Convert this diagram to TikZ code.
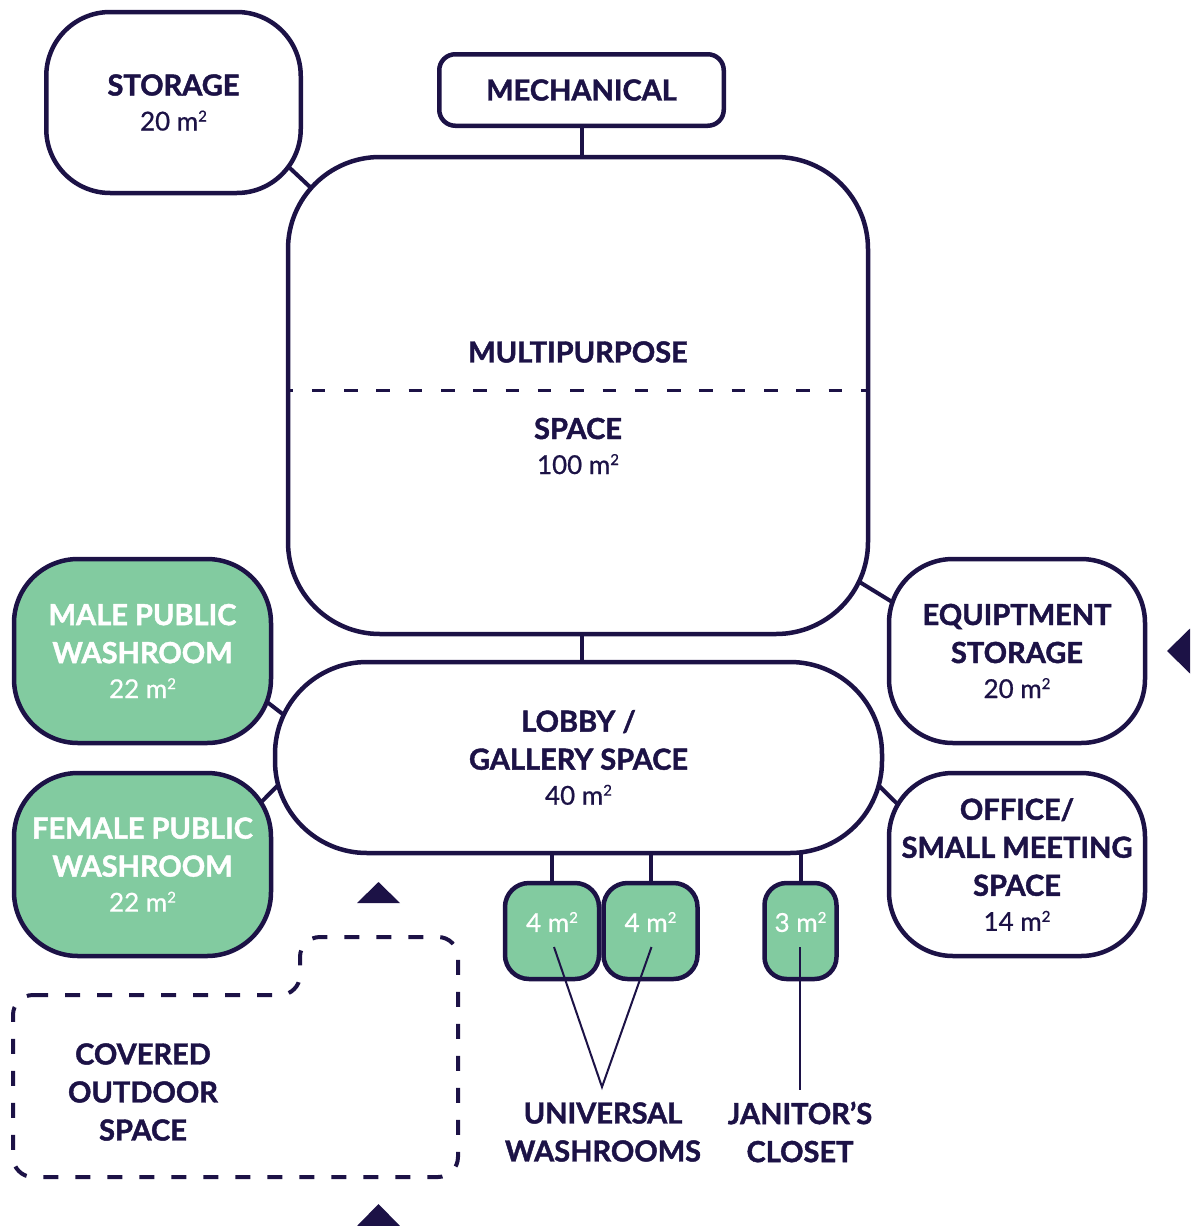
\documentclass[tikz,border=0pt]{standalone}
\usepackage{fontspec}
\setmainfont{Lato}[BoldFeatures={FakeBold=1.5}]
\newfontface\areafont{Lato}[FakeBold=0.7]
\usetikzlibrary{backgrounds,calc}
\definecolor{ink}{RGB}{28,18,70}
\definecolor{leaf}{RGB}{130,203,160}
\newcommand{\sqm}[1]{{\fontsize{26}{30}\areafont #1 m\raisebox{9pt}{\fontsize{15}{15}\selectfont 2}}}

\begin{document}
\begin{tikzpicture}[x=1pt,y=-1pt,
  room/.style={draw=ink, line width=4.5pt, fill=white, rounded corners=#1, inner sep=0pt, outer sep=0pt, align=center, text=ink, font=\fontsize{29}{38}\selectfont\bfseries},
  room/.default=64pt,
  wet/.style={room=#1, fill=leaf, text=white},
  wet/.default=64pt,
  caption/.style={inner sep=0pt, align=center, text=ink, font=\fontsize{29}{38}\selectfont\bfseries},
  link/.style={draw=ink, line width=4pt},
  lead/.style={draw=ink, line width=2pt},
  divide/.style={draw=ink, line width=3pt, dash pattern=on 13.5pt off 18.8pt, dash phase=8.5pt},
  outline/.style={draw=ink, line width=4pt, rounded corners=20pt, dash pattern=on 15pt off 17pt}]
\useasboundingbox (0,0) rectangle (1193,1226);

\node[room=16pt, minimum width=284.5pt, minimum height=71.5pt] (mech) at (581.5,90) {MECHANICAL};
\node[room, minimum width=254.5pt, minimum height=181pt] (storage) at (173.5,102.5) {STORAGE\\[-3pt]\sqm{20}};
\node[room=92pt, minimum width=580pt, minimum height=477pt] (multi) at (578,395.5) {};
\node[room=92pt, minimum width=607pt, minimum height=191pt] (lobby) at (578.5,757.5) {LOBBY /\\GALLERY SPACE\\[-3pt]\sqm{40}};
\node[room, minimum width=256pt, minimum height=184pt] (equip) at (1017,651) {EQUIPTMENT\\STORAGE\\[-3pt]\sqm{20}};
\node[room, minimum width=256pt, minimum height=183pt] (office) at (1017,864.5) {OFFICE/\\SMALL MEETING\\SPACE\\[-3pt]\sqm{14}};
\node[wet, minimum width=257pt, minimum height=184pt] (male) at (142.5,651) {MALE PUBLIC\\WASHROOM\\[-3pt]\sqm{22}};
\node[wet, minimum width=257pt, minimum height=183pt] (female) at (142.5,864.5) {FEMALE PUBLIC\\WASHROOM\\[-3pt]\sqm{22}};
\node[wet=24pt, minimum width=94pt, minimum height=96pt] (uw1) at (552,931) {};
\node[wet=24pt, minimum width=94pt, minimum height=96pt] (uw2) at (650.5,931) {};
\node[wet=22pt, minimum width=72pt, minimum height=96pt] (jan) at (800.5,931) {};

\draw[divide] ($(multi.west)+(0,-5.5)$) -- ($(multi.east)+(0,-5.5)$);
\node[caption] (mptop) at (578,352) {MULTIPURPOSE};
\node[caption] (mpbot) at (578,446) {SPACE\\[-3pt]\sqm{100}};

\node[caption, text=white] (uw1txt) at ($(uw1.center)+(0,-9)$) {\sqm{4}};
\node[caption, text=white] (uw2txt) at ($(uw2.center)+(0,-9)$) {\sqm{4}};
\node[caption, text=white] (jantxt) at ($(jan.center)+(0,-9)$) {\sqm{3}};

\begin{scope}[on background layer]
\draw[link] (mech.south) -- (mech.south |- multi.north);
\draw[link] (mech.south |- multi.south) -- (mech.south |- lobby.north);
\draw[link] ($(storage.south east)+(-29,-42)$) -- ($(multi.north west)+(47,53.5)$);
\draw[link] ($(multi.south east)+(-36.3,-69.1)$) -- ($(equip.north west)+(32.7,61.1)$);
\draw[link] ($(male.south east)+(-34.3,-64.5)$) -- ($(lobby.west)+(36.7,-21)$);
\draw[link] ($(female.north east)+(-36,55.5)$) -- ($(lobby.west)+(26.6,4)$);
\draw[link] ($(lobby.east)+(-35.4,-4)$) -- ($(office.north west)+(41,63.5)$);
\draw[link] (uw1.north) -- (uw1.north |- lobby.south);
\draw[link] (uw2.north) -- (uw2.north |- lobby.south);
\draw[link] (jan.north) -- (jan.north |- lobby.south);
\end{scope}

\coordinate (uwtip) at (602,1087);
\coordinate (jantip) at (800,1090);
\draw[lead] ($(uw1.center)+(2,16)$) -- (uwtip) -- ($(uw2.center)+(1,16)$);
\draw[lead] ($(jan.center)+(-0.5,16)$) -- (jantip);
\node[caption] (uwlbl) at (603,1132) {UNIVERSAL\\WASHROOMS};
\node[caption] (janlbl) at (800,1132) {JANITOR’S\\CLOSET};

\draw[outline] (13,995) -- (300,995) -- (300,937) -- (458,937) -- (458,1177) -- (13,1177) -- cycle;
\node[caption] (covered) at (143,1092) {COVERED\\OUTDOOR\\SPACE};

\fill[ink] (357,903) -- (378.5,882) -- (400,903) -- cycle;
\fill[ink] (357,1226) -- (378.5,1204) -- (400,1226) -- cycle;
\fill[ink] (1167,651) -- (1190,628.5) -- (1190,673.5) -- cycle;
\end{tikzpicture}
\end{document}
